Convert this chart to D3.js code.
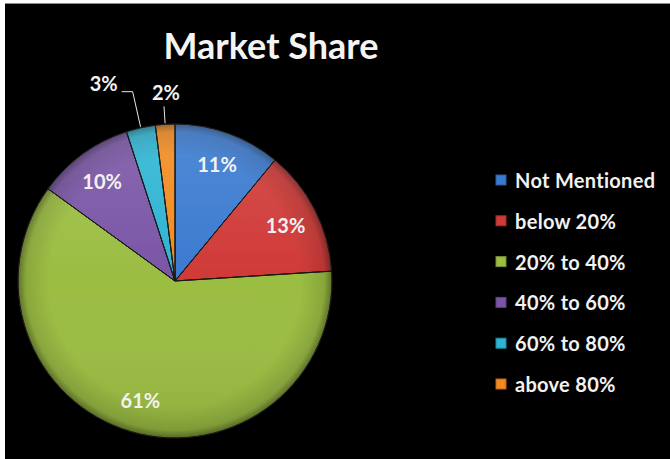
<!DOCTYPE html>
<html>
<head>
<meta charset="utf-8">
<script src="https://cdn.jsdelivr.net/npm/d3@7"></script>
<style>
  html, body { margin: 0; padding: 0; background: #ffffff; }
  svg { display: block; }
</style>
</head>
<body>
<svg id="chart" width="670" height="459"></svg>
<script>
// Market share by band
const categories = ["Not Mentioned", "below 20%", "20% to 40%", "40% to 60%", "60% to 80%", "above 80%"];
const shares = [11, 13, 61, 10, 3, 2];
const sliceColors = ["#3a7ad0", "#d03a37", "#9bbd42", "#7a55a6", "#2db4d2", "#f28a1f"];
const titleText = "Market Share";

const svg = d3.select("#chart");
const W = 670, H = 459;

// panel
svg.append("rect").attr("x", 5).attr("y", 3).attr("width", W - 5).attr("height", 1).attr("fill", "#8a8a8a");
svg.append("rect").attr("x", 5).attr("y", 4).attr("width", W - 5).attr("height", H - 4).attr("fill", "#000");

const font = "Lato, 'Open Sans', sans-serif";

// title
svg.append("text")
  .attr("x", 271).attr("y", 59)
  .attr("text-anchor", "middle")
  .attr("fill", "#f4f4f4")
  .style("font-family", font).style("font-weight", 700).style("font-size", "36px")
  .text(titleText);

// pie
const cx = 175, cy = 281, R = 157;
const data = categories.map((c, i) => ({ name: c, value: shares[i], color: sliceColors[i] }));
const pie = d3.pie().value(d => d.value).sort(null);
const arcs = pie(data);
const arc = d3.arc().innerRadius(0).outerRadius(R);
const labelArc = d3.arc().innerRadius(124).outerRadius(124);

const defs = svg.append("defs");
const rim = defs.append("radialGradient").attr("id", "rim")
  .attr("gradientUnits", "userSpaceOnUse").attr("cx", cx).attr("cy", cy).attr("r", R);
rim.append("stop").attr("offset", "0.80").attr("stop-color", "#000").attr("stop-opacity", 0);
rim.append("stop").attr("offset", "0.95").attr("stop-color", "#000").attr("stop-opacity", 0.12);
rim.append("stop").attr("offset", "1").attr("stop-color", "#000").attr("stop-opacity", 0.4);

const light = defs.append("linearGradient").attr("id", "light")
  .attr("gradientUnits", "userSpaceOnUse").attr("x1", 0).attr("y1", cy - R).attr("x2", 0).attr("y2", cy + R);
light.append("stop").attr("offset", "0").attr("stop-color", "#fff").attr("stop-opacity", 0.12);
light.append("stop").attr("offset", "0.5").attr("stop-color", "#fff").attr("stop-opacity", 0);
light.append("stop").attr("offset", "1").attr("stop-color", "#000").attr("stop-opacity", 0.08);

const soft = defs.append("filter").attr("id", "soft").attr("x", "-5%").attr("y", "-5%").attr("width", "110%").attr("height", "110%");
soft.append("feGaussianBlur").attr("stdDeviation", 0.6);

const g = svg.append("g").attr("transform", `translate(${cx},${cy})`);
const slices = g.append("g").attr("filter", "url(#soft)");
slices.selectAll("path.slice").data(arcs).join("path")
  .attr("class", "slice")
  .attr("d", arc)
  .attr("fill", d => d.data.color)
  .attr("stroke", "#1a1a1a")
  .attr("stroke-width", 1);
// shading overlays across the whole disc
slices.append("circle").attr("r", R).attr("fill", "url(#rim)")
  .attr("transform", `translate(${-cx},${-cy})`).attr("cx", cx).attr("cy", cy);
slices.append("circle").attr("r", R).attr("fill", "url(#light)")
  .attr("transform", `translate(${-cx},${-cy})`).attr("cx", cx).attr("cy", cy);
slices.selectAll("path.edge").data(arcs).join("path")
  .attr("class", "edge")
  .attr("d", arc)
  .attr("fill", "none")
  .attr("stroke", "#1a1a1a")
  .attr("stroke-opacity", 0.7)
  .attr("stroke-width", 1);

const labelStyle = sel => sel
  .attr("fill", "#f2f2f2")
  .style("font-family", font).style("font-weight", 700).style("font-size", "20px");

// inside labels for larger slices
arcs.filter(d => d.data.value >= 5).forEach(d => {
  const [x, y] = labelArc.centroid(d);
  g.append("text").call(labelStyle)
    .attr("x", x).attr("y", y)
    .attr("text-anchor", "middle").attr("dominant-baseline", "central")
    .text(d.data.value + "%");
});

// outside labels with leader lines for the thin slices
const mid = d => (d.startAngle + d.endAngle) / 2;
const polar = (r, a) => [r * Math.sin(a), -r * Math.cos(a)];
const outside = arcs.filter(d => d.data.value < 5);
outside.forEach(d => {
  const a = mid(d);
  const p0 = polar(R + 1, a);
  if (d.data.value >= 3) {
    const p1 = polar(194, a);
    const p2 = [p1[0] - 11, p1[1]];
    g.append("polyline").attr("points", [p0, p1, p2].map(p => p.join(",")).join(" "))
      .attr("fill", "none").attr("stroke", "#e8e8e8").attr("stroke-width", 1);
    g.append("text").call(labelStyle)
      .attr("x", p2[0] - 4).attr("y", p2[1] - 1)
      .attr("text-anchor", "end")
      .text(d.data.value + "%");
  } else {
    const p1 = polar(175, a);
    g.append("line").attr("x1", p0[0]).attr("y1", p0[1]).attr("x2", p1[0]).attr("y2", p1[1])
      .attr("stroke", "#e8e8e8").attr("stroke-width", 1);
    g.append("text").call(labelStyle)
      .attr("x", p1[0] + 2).attr("y", p1[1] - 6)
      .attr("text-anchor", "middle")
      .text(d.data.value + "%");
  }
});

// legend
const legendY = d3.scalePoint().domain(categories).range([180, 384]);
const legend = svg.append("g");
const items = legend.selectAll("g").data(data).join("g")
  .attr("transform", d => `translate(496,${legendY(d.name)})`);
items.append("rect")
  .attr("x", 0).attr("y", -5).attr("width", 10).attr("height", 10)
  .attr("fill", d => d.color)
  .attr("stroke", d => d3.color(d.color).darker(0.8)).attr("stroke-width", 1);
items.append("text")
  .attr("x", 19).attr("y", 0)
  .attr("dominant-baseline", "central")
  .attr("fill", "#f2f2f2")
  .style("font-family", font).style("font-weight", 700).style("font-size", "20px")
  .style("letter-spacing", "0.3px")
  .text(d => d.name);
</script>
</body>
</html>
